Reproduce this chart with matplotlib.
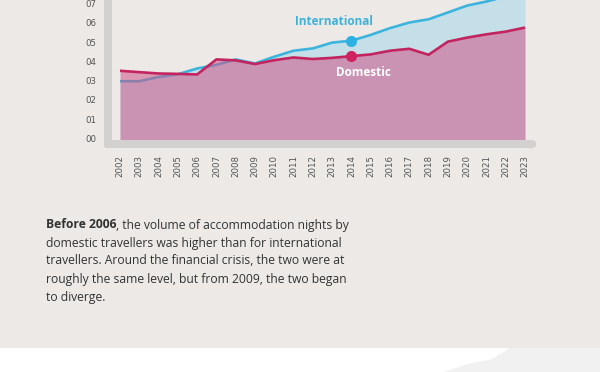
import matplotlib
matplotlib.use("Agg")
import matplotlib.pyplot as plt
from matplotlib.patches import FancyBboxPatch, Rectangle, PathPatch
from matplotlib.path import Path
import numpy as np

years = list(range(2002, 2024))
domestic = [3.56, 3.49, 3.42, 3.40, 3.37, 4.15, 4.10, 3.91, 4.11, 4.25, 4.17,
            4.23, 4.32, 4.41, 4.60, 4.70, 4.39, 5.07, 5.28, 5.45, 5.59, 5.80]
international = [3.02, 3.02, 3.24, 3.38, 3.68, 3.87, 4.15, 3.94, 4.29, 4.60, 4.72,
                 5.02, 5.12, 5.42, 5.77, 6.06, 6.23, 6.58, 6.94, 7.15, 7.40, 7.65]
ytick_vals = list(range(0, 8))
ytick_labels = ["00", "01", "02", "03", "04", "05", "06", "07"]
marker_year = 2014
label_int = "International"
label_dom = "Domestic"
text_bold = "Before 2006"
text_lines = [
    ", the volume of accommodation nights by",
    "domestic travellers was higher than for international",
    "travellers. Around the financial crisis, the two were at",
    "roughly the same level, but from 2009, the two began",
    "to diverge.",
]

W, H = 600, 372
DPI = 100
BG = "#ece9e6"
BLUE = "#3db4dd"
BLUE_FILL = "#c5dfe9"
RED = "#c2245f"
PINK = "#cf5589"
GRAY = "#d3d1cf"
TXT = "#555555"

fig = plt.figure(figsize=(W / DPI, H / DPI), dpi=DPI, facecolor="white")

def fx(px):
    return px / W

def fy(py):
    return 1 - py / H

# background panels
fig.patches.append(Rectangle((0, fy(348)), 1, 348 / H, transform=fig.transFigure,
                             facecolor=BG, edgecolor="none", zorder=-2))
verts = [(fx(444), fy(372)), (fx(470), fy(362)), (fx(490), fy(360)),
         (fx(505), fy(352)), (fx(509), fy(348)), (fx(600), fy(348)),
         (fx(600), fy(372)), (fx(444), fy(372))]
codes = [Path.MOVETO, Path.CURVE3, Path.CURVE3, Path.CURVE3, Path.CURVE3,
         Path.LINETO, Path.LINETO, Path.CLOSEPOLY]
fig.patches.append(PathPatch(Path(verts, codes), transform=fig.transFigure,
                             facecolor="#f1f1f1", edgecolor="none", zorder=-2))

# gray L frame
fig.patches.append(FancyBboxPatch((fx(104), fy(148)), fx(8), fy(-10) - fy(148),
                                  boxstyle="round,pad=0,rounding_size=0.006",
                                  transform=fig.transFigure, facecolor=GRAY,
                                  edgecolor="none", zorder=-1))
fig.patches.append(FancyBboxPatch((fx(104), fy(148)), fx(432), 8 / H,
                                  boxstyle="round,pad=0,rounding_size=0.008",
                                  transform=fig.transFigure, facecolor=GRAY,
                                  edgecolor="none", zorder=-1))

# axes
ax_left, ax_right, ax_bottom, ax_top = 112, 536, 139.5, 0
ax = fig.add_axes([fx(ax_left), fy(ax_bottom), fx(ax_right - ax_left),
                   (ax_bottom - ax_top) / H])
ax.set_zorder(3)
ax.set_facecolor("none")
px_per_year = (525 - 120) / 21
ax.set_xlim(2002 - (120 - ax_left) / px_per_year, 2023 + (ax_right - 525) / px_per_year)
px_per_unit = 19.3
ax.set_ylim(0, (ax_bottom - ax_top) / px_per_unit)

ax.fill_between(years, 0, international, color=BLUE_FILL, lw=0, zorder=2)
ax.plot(years, international, color=BLUE, lw=1.9, zorder=3, solid_capstyle="butt")
ax.fill_between(years, 0, domestic, color=PINK, alpha=0.55, lw=0, zorder=4)
ax.plot(years, domestic, color=RED, lw=1.9, zorder=5, solid_capstyle="butt")

i = years.index(marker_year)
ax.plot([marker_year], [international[i]], "o", color="#2db1e2", ms=8, zorder=6, mec="none")
ax.plot([marker_year], [domestic[i]], "o", color="#cf2360", ms=8, zorder=6, mec="none")

ax.text(marker_year - 0.9, international[i] + 1.0, label_int, color="#3fb2d8",
        fontsize=8.5, fontweight="bold", family="Open Sans", ha="center", va="center", zorder=7)
ax.text(marker_year + 0.6, domestic[i] - 0.85, label_dom, color="white",
        fontsize=8.5, fontweight="bold", family="Open Sans", ha="center", va="center", zorder=7)

for s in ax.spines.values():
    s.set_visible(False)
ax.set_xticks(years)
ax.set_xticklabels([str(y) for y in years], rotation=90, fontsize=6.2, color=TXT,
                   family="DejaVu Sans")
ax.set_yticks(ytick_vals)
ax.set_yticklabels(ytick_labels, fontsize=6.2, color=TXT, family="DejaVu Sans")
ax.tick_params(axis="both", length=0)
ax.tick_params(axis="x", pad=11.5)
ax.tick_params(axis="y", pad=11.5)
for lbl in ax.get_yticklabels():
    lbl.set_va("center")

# paragraph
fs = 8.75
fam = "Open Sans"
tcol = "#333333"
x0 = fx(46)
line_h = 18
y_first = 225
renderer = fig.canvas.get_renderer()
tb = fig.text(x0, fy(y_first), text_bold, fontsize=fs, fontweight="bold", family=fam,
              color=tcol, va="center", ha="left")
bb = tb.get_window_extent(renderer=renderer)
fig.text(bb.x1 / (W), fy(y_first), text_lines[0], fontsize=fs, family=fam,
         color=tcol, va="center", ha="left")
for k, line in enumerate(text_lines[1:], start=1):
    fig.text(x0, fy(y_first + k * line_h), line, fontsize=fs, family=fam,
             color=tcol, va="center", ha="left")

fig.savefig("out.png", dpi=DPI, facecolor=fig.get_facecolor())
